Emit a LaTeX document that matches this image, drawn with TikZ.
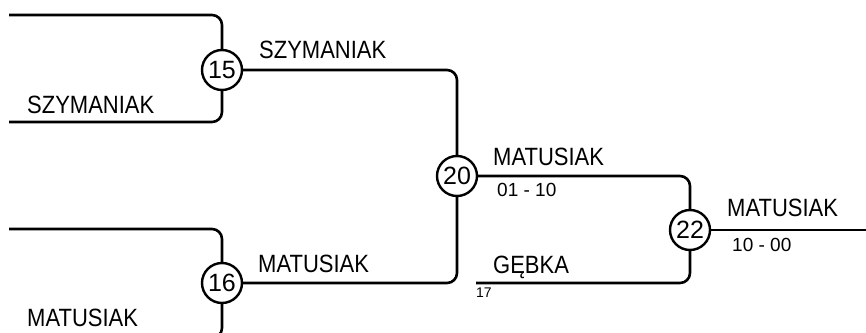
\documentclass[tikz,border=0pt]{standalone}
\usepackage{fontspec}
\setmainfont{Liberation Sans}[FakeStretch=0.88]
\newfontfamily\numfont{Liberation Sans}
\begin{document}
\begin{tikzpicture}[x=1pt,y=-1pt,
  wire/.style={line width=2.6pt,rounded corners=10pt},
  seed/.style={circle,draw,line width=2.4pt,fill=white,minimum size=40pt,inner sep=0pt,font=\numfont\fontsize{25}{25}\selectfont},
  plabel/.style={anchor=base west,inner sep=0pt,font=\fontsize{25}{25}\selectfont},
  scorelabel/.style={anchor=base west,inner sep=0pt,font=\numfont\fontsize{19}{19}\selectfont},
  smalllabel/.style={anchor=base west,inner sep=0pt,font=\numfont\fontsize{14}{14}\selectfont}]
\useasboundingbox (0,0) rectangle (866,332);
\clip (0,0) rectangle (866,332);
\coordinate (a1) at (9,15);
\coordinate (a2) at (9,122);
\coordinate (b1) at (9,229);
\coordinate (b2) at (9,338);
\coordinate (g) at (476,283);
\coordinate (fin) at (870,230);
\node[seed] (c15) at (222,70) {15};
\node[seed] (c16) at (222,283) {16};
\node[seed] (c20) at (457,176) {20};
\node[seed] (c22) at (690,230) {22};
\draw[wire] (a1) -| (c15.north);
\draw[wire] (a2) -| (c15.south);
\draw[wire] (b1) -| (c16.north);
\draw[wire] (b2) -| (c16.south);
\draw[wire] (c15.east) -| (c20.north);
\draw[wire] (c16.east) -| (c20.south);
\draw[wire] (c20.east) -| (c22.north);
\draw[wire] (g) -| (c22.south);
\draw[wire] (c22.east) -- (fin);
\node[plabel] (l1) at (27,113) {SZYMANIAK};
\node[plabel] (l2) at (27,326) {MATUSIAK};
\node[plabel] (l3) at (259,58) {SZYMANIAK};
\node[plabel] (l4) at (258,272) {MATUSIAK};
\node[plabel] (l5) at (493,165) {MATUSIAK};
\node[scorelabel] (s1) at (497,196) {01 - 10};
\node[plabel] (l6) at (493,273) {GĘBKA};
\node[smalllabel] (s2) at (476,297) {17};
\node[plabel] (l7) at (727,216) {MATUSIAK};
\node[scorelabel] (s3) at (732,251) {10 - 00};
\end{tikzpicture}
\end{document}
